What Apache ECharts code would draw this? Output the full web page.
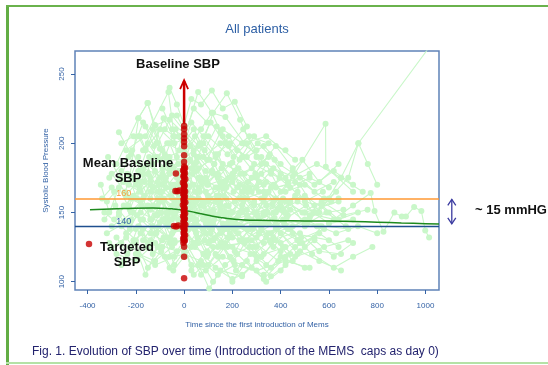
<!DOCTYPE html>
<html>
<head>
<meta charset="utf-8">
<script src="https://cdn.jsdelivr.net/npm/echarts@6/dist/echarts.min.js"></script>
<style>
  html, body { margin: 0; padding: 0; background: #fff; }
  #chart { width: 548px; height: 365px; }
</style>
</head>
<body>
<div id="chart"></div>
<script>
// tick values on both axes
const xTicks = [-400, -200, 0, 200, 400, 600, 800, 1000];
const yTicks = [100, 150, 200, 250];

// reference SBP levels (mean baseline / target)
const meanBaselineSBP = 160;
const targetSBP = 140;

// smoothed mean SBP over time
const meanT = [-390, -250, -130, -50, 0, 50, 100, 150, 200, 250, 300, 400, 500, 600, 700, 800, 900, 1000, 1056];
const meanV = [151.9, 152.8, 153.3, 152.6, 151.6, 149.8, 148, 146.4, 145.2, 144.6, 144.3, 144.1, 143.9, 143.8, 143.5, 143, 142.4, 141.9, 141.6];

// baseline SBP at day 0 (red dots), plus a few just before day 0
const baselineT = [0, 0, 0, 0, 0, 0, 0, 0, 0, 0, 0, 0, 0, 0, 0, 0, 0, 0, 0, 0, 0, 0, 0, 0, 0, 0, 0, 0, 0, 0, 0, 0, 0, 0, 0, 0, 0, 0, 0,
  4, -4, 3, -3, 5, -5, 2, -2, 4, -4, 3, -3, 5, -5, 2, -2, 4, -4, 3, -3, 5, -5, 2, -2, 4, -4, 3, -3,
  -34, -36, -28, -20, -42, -33, -24, -394];
const baselineV = [212.5, 210.1, 206.5, 203.6, 200.9, 197.8, 191.3, 183.2, 181.5, 179.8, 177, 175.4, 172.8, 170.1, 168.5, 166, 164.2, 162.5, 160.3, 158.1, 156.6, 154, 152.2, 150.5, 148.3, 146.1, 144.7, 142.2, 140.1, 138.4, 136.6, 134.2, 132.9, 131.4, 125.2, 118, 102.4, 186.5, 129.5,
  182.1, 180.3, 178.4, 176.2, 174.1, 171.5, 169.3, 167.2, 165.1, 163.3, 161.4, 159.2, 157.4, 155.3, 153.1, 151.4, 149.2, 147.3, 145.4, 143.3, 141.2, 139.3, 137.5, 135.3, 133.5, 131, 129.8, 128.2,
  178.1, 165.5, 165.3, 165.8, 140.2, 139.8, 140.5, 127.2];

// individual patient trajectories [day, SBP]
const patients = [
  [[-320,158],[-250,172],[-180,165],[-90,182],[0,176],[60,160],[150,148],[260,152],[380,140],[520,146]],
  [[-300,140],[-210,150],[-120,135],[-40,158],[0,160],[45,138],[120,130],[210,142],[330,128],[450,135],[600,130]],
  [[-280,185],[-190,218],[-150,229],[-100,196],[-20,205],[0,198],[70,175],[140,168],[230,160],[330,170]],
  [[-260,128],[-170,145],[-60,132],[0,143],[30,125],[100,120],[190,135],[300,118],[420,125]],
  [[-240,195],[-160,205],[-65,237],[-30,190],[0,212],[50,186],[120,222],[177,236],[232,217],[300,190],[400,178]],
  [[-220,150],[-130,168],[-50,155],[0,166],[80,145],[170,150],[260,138],[350,142],[470,130],[580,138]],
  [[-200,172],[-120,213],[-70,185],[0,184],[40,170],[110,160],[200,172],[290,155],[380,160],[500,150],[640,158]],
  [[-330,150],[-260,140],[-200,130],[-110,148],[0,152],[90,135],[180,125],[280,130],[390,115],[480,128]],
  [[-190,205],[-160,195],[-100,210],[-40,200],[0,203],[58,237],[115,222],[171,219],[250,200],[340,205],[460,188]],
  [[-150,178],[-90,165],[-20,170],[0,172],[30,155],[90,150],[160,142],[240,150],[320,137],[410,145],[550,140]],
  [[-280,120],[-200,115],[-120,128],[-30,122],[0,130],[60,112],[104,95],[150,108],[240,104],[320,118]],
  [[-240,162],[-170,178],[-100,158],[-30,168],[0,164],[50,150],[130,158],[210,145],[300,150],[400,155],[520,148],[660,152]],
  [[-310,175],[-230,190],[-170,182],[-80,175],[0,180],[100,170],[200,176],[310,165],[430,170],[586,214],[587,183],[700,165]],
  [[-130,140],[-70,132],[0,140],[40,128],[110,140],[190,118],[270,125],[360,110],[440,120]],
  [[-180,150],[-100,143],[-30,138],[0,145],[70,155],[150,135],[230,140],[330,148],[450,140],[560,150],[650,175],[722,200],[1010,268]],
  [[600,160],[680,175],[722,200],[761,185],[800,170]],
  [[500,150],[620,145],[700,155],[773,164],[789,151],[826,136],[871,150],[902,147],[919,147],[953,154],[983,151],[999,137],[1015,132]],
  [[-260,200],[-210,205],[-182,205],[-160,196],[-100,188],[0,195],[80,200],[160,185],[250,178],[350,190],[480,175]],
  [[-230,170],[-189,218],[-152,229],[-120,213],[-61,217],[0,207],[80,190],[150,200]],
  [[-100,165],[-50,150],[0,158],[20,145],[80,138],[150,152],[220,140],[300,132],[380,138],[460,125],[540,132]],
  [[-290,145],[-220,160],[-140,152],[-60,145],[0,150],[50,142],[120,152],[200,132],[280,140],[360,128]],
  [[-160,125],[-80,118],[0,125],[30,112],[90,108],[160,118],[240,112],[330,105],[400,118],[500,110]],
  [[-120,190],[-60,178],[0,190],[60,182],[130,190],[200,175],[280,182],[370,170],[450,180],[540,165],[620,172]],
  [[-200,138],[-140,130],[-70,142],[0,136],[50,128],[130,132],[200,125],[290,120],[370,132],[460,118],[580,125],[680,130]],
  [[-75,175],[-35,165],[0,168],[35,178],[90,165],[170,172],[250,160],[330,165],[420,158],[500,162],[600,150]],
  [[-250,155],[-180,145],[-110,160],[-40,148],[0,155],[45,165],[100,150],[175,160],[260,148],[340,155],[430,148]],
  [[-60,200],[-25,185],[0,186],[25,198],[70,210],[115,222],[160,205],[220,195],[290,185],[360,178],[430,172],[520,178]],
  [[-340,160],[-300,168],[-270,150],[-210,162],[-140,172],[-50,160],[0,162],[100,158],[230,150]],
  [[-110,155],[-80,145],[-45,138],[0,135],[60,140],[100,128],[140,118],[230,140],[310,145],[370,150],[470,158],[600,142],[700,145]],
  [[-40,130],[0,128],[30,108],[80,120],[130,110],[200,102],[240,105],[300,115],[360,104],[420,112]],
  [[-20,160],[0,170],[20,160],[60,175],[100,162],[160,168],[210,158],[260,165],[320,160],[390,152],[460,162],[540,155],[640,160]],
  [[-190,180],[-140,175],[-90,195],[-45,182],[0,178],[40,192],[90,180],[140,175],[190,185],[230,170],[320,178]],
  [[-170,130],[-130,140],[-90,125],[-50,135],[0,138],[40,146],[110,130],[180,142],[250,130],[320,138],[400,128],[480,135],[560,122],[650,120]],
  [[-300,125],[-240,132],[-190,120],[-120,115],[-50,125],[0,132],[120,125],[250,128]],
  [[-80,210],[-40,205],[0,200],[30,215],[80,205],[130,192],[190,200],[260,190],[330,198],[400,185]],
  [[-140,165],[-95,170],[-55,162],[0,165],[25,150],[75,158],[125,145],[175,155],[225,148],[290,158],[345,150],[410,160],[490,150],[570,158],[660,148],[760,152]],
  [[-220,145],[-150,155],[-70,148],[0,146],[55,132],[115,138],[170,128],[225,135],[285,125],[340,132],[400,122],[470,130],[530,120],[620,110],[700,118],[780,125]],
  [[-30,220],[0,210],[40,195],[100,205],[180,192],[270,205],[350,200],[420,195]],
  [[-260,180],[-200,170],[-150,185],[-100,175],[-50,170],[0,176],[60,168],[140,178],[220,168],[300,175],[380,168],[460,172]],
  [[-50,145],[0,148],[40,155],[95,142],[150,150],[205,138],[265,146],[320,140],[375,146],[440,138],[500,145],[560,140],[630,135],[720,140],[800,135]],
  [[-200,120],[-120,112],[-40,118],[0,120],[70,115],[140,105],[210,112],[300,108],[420,115],[520,110]],
  [[-90,225],[-50,210],[0,205],[40,225],[95,215],[160,210],[240,200],[320,190]],
  [[-320,135],[-250,142],[-170,138],[-90,130],[0,140],[80,145],[160,138],[260,145],[360,135],[500,142],[680,138]],
  [[-130,185],[-80,192],[-20,180],[0,182],[60,190],[120,178],[200,186],[280,175],[370,182],[450,176],[550,185],[650,175],[740,165]],
  [[-10,155],[0,156],[20,138],[50,145],[85,130],[120,142],[180,132],[240,140],[300,125],[350,135],[420,140],[490,128],[560,135],[640,125]],
  [[-60,118],[0,125],[40,105],[80,112],[120,100],[170,112],[220,120],[280,110],[340,100],[400,108],[480,122],[560,115],[650,108]],
  [[-150,200],[-110,190],[-70,200],[-20,195],[0,192],[50,180],[105,188],[150,172],[210,180],[270,168],[340,172],[420,165],[500,170],[580,160]],
  [[-290,165],[-235,178],[-195,160],[-145,190],[-105,170],[-60,182],[0,174],[45,185],[95,170],[155,182],[205,165],[265,172],[335,162],[395,175]],
  [[-270,148],[-225,138],[-175,155],[-135,145],[-85,160],[-35,150],[0,153],[35,160],[85,148],[135,162],[185,150],[245,158],[305,148],[365,156],[425,146],[505,155]],
  [[-315,190],[-265,175],[-215,195],[-165,172],[-115,200],[-70,188],[0,188],[65,200],[125,185],[185,205],[245,190],[305,200],[375,188]],
  [[-240,135],[-195,148],[-150,128],[-105,140],[-55,130],[-15,142],[0,141],[55,150],[110,135],[165,148],[230,130],[295,142],[355,130],[415,142],[485,132]],
  [[-210,175],[-165,162],[-120,180],[-75,168],[-30,178],[0,169],[30,182],[75,172],[125,185],[175,168],[235,178],[300,168],[360,180],[440,168],[520,175],[600,168]],
  [[-180,158],[-140,170],[-95,150],[-55,168],[-15,158],[0,159],[35,170],[80,155],[130,168],[185,155],[240,165],[290,150],[350,165],[410,152],[470,165],[535,150],[610,158]],
  [[-330,145],[-285,155],[-230,143],[-170,160],[-115,135],[-70,150],[0,150],[60,128],[120,150],[180,138],[240,155],[310,135],[380,150]],
  [[-160,212],[-125,198],[-85,218],[-45,205],[0,201],[40,210],[85,195],[135,212],[185,198],[245,210],[300,195]],
  [[-225,125],[-180,135],[-130,120],[-85,132],[-40,112],[0,122],[50,135],[95,118],[150,128],[205,115],[260,130],[320,118],[380,130],[450,115]],
  [[-300,178],[-245,165],[-190,190],[-140,160],[-90,178],[-40,165],[0,172],[40,158],[90,175],[140,160],[200,178],[255,160],[310,172],[370,158],[430,170],[500,158],[575,165]],
  [[-120,148],[-95,160],[-65,140],[-30,155],[0,150],[15,165],[45,140],[80,158],[115,138],[150,155],[195,140],[240,152],[285,138],[330,150],[385,140],[440,152],[510,142],[590,150],[670,140]],
  [[-270,208],[-220,192],[-170,215],[-110,200],[-50,220],[0,209],[60,198],[110,215],[170,200],[230,188],[290,205]],
  [[-250,115],[-200,128],[-150,110],[-95,122],[-45,108],[0,118],[45,128],[100,112],[160,125],[215,108],[275,120],[340,112],[410,125]],
  [[-200,160],[-155,185],[-110,165],[-60,190],[-20,172],[0,178],[25,188],[65,165],[115,180],[165,162],[225,182],[280,165],[340,185],[400,165],[460,178],[540,170],[620,180],[700,170]],
  [[-140,135],[-100,150],[-60,128],[-25,145],[0,139],[45,125],[90,142],[140,125],[190,145],[250,128],[310,142],[370,125],[430,138],[500,125],[570,140]],
  [[-345,170],[-310,150],[-270,168],[-225,152],[-180,172],[-130,155],[-80,172],[-30,158],[0,163]],
  [[-60,240],[-30,228],[0,213],[30,232],[70,228],[115,238],[160,225],[210,230],[260,212]],
  [[-110,172],[-70,190],[-30,175],[0,180],[20,168],[55,190],[95,172],[140,192],[185,175],[240,190],[295,178],[355,192],[420,175],[490,188],[560,172],[640,185]],
  [[-280,132],[-235,120],[-190,140],[-140,125],[-90,145],[-40,128],[0,131],[40,140],[95,122],[150,138],[210,122],[270,138],[330,120],[400,135],[470,120],[540,130],[620,118],[700,128]],
  [[-90,158],[-55,145],[-20,162],[0,161],[25,148],[60,165],[100,145],[145,162],[190,145],[235,160],[280,145],[330,158],[380,142],[440,158],[500,140],[570,155],[640,145],[720,150]],
  [[-170,195],[-130,210],[-80,190],[-35,210],[0,196],[45,205],[95,188],[150,208],[205,190],[260,200],[320,185],[380,198],[450,182]],
  [[-230,155],[-185,168],[-140,145],[-95,165],[-50,140],[0,147],[50,158],[100,140],[150,158],[200,142],[260,160],[330,142],[400,158]],
  [[-40,170],[0,167],[30,150],[70,172],[110,150],[155,170],[200,150],[250,168],[300,148],[360,168],[420,150],[480,170],[550,150],[630,165]],
  [[-310,128],[-260,112],[-210,130],[-160,105],[-110,125],[-60,110],[0,127],[70,105],[130,120],[200,100],[260,115],[330,102],[420,118]]
];

const FONT = 'Liberation Sans, Arial, Helvetica, sans-serif';
const AXIS_BLUE = '#3563a6';
const PALE_GREEN = '#c9f7c9';

const chart = echarts.init(document.getElementById('chart'));

const series = patients.map((p) => ({
  type: 'line',
  data: p,
  symbol: 'circle',
  symbolSize: 6,
  showSymbol: true,
  silent: true,
  lineStyle: { color: PALE_GREEN, width: 1.1 },
  itemStyle: { color: PALE_GREEN },
  z: 1,
}));

series.push({
  type: 'line',
  data: meanT.map((t, i) => [t, meanV[i]]),
  smooth: true,
  symbol: 'none',
  silent: true,
  lineStyle: { color: '#1e8a1e', width: 1.5 },
  z: 5,
  markLine: {
    silent: true,
    symbol: 'none',
    label: { show: false },
    data: [
      { yAxis: meanBaselineSBP, lineStyle: { color: '#ff9933', width: 1.5, type: 'solid' } },
      { yAxis: targetSBP, lineStyle: { color: '#1f4f8f', width: 1.3, type: 'solid' } },
    ],
  },
});

series.push({
  type: 'scatter',
  data: baselineT.map((t, i) => [t, baselineV[i]]),
  symbol: 'circle',
  symbolSize: 6.5,
  silent: true,
  itemStyle: { color: '#c80000' },
  z: 10,
});

const option = {
  animation: false,
  grid: {
    left: 75,
    right: 109,
    top: 51,
    bottom: 75,
    show: true,
    borderColor: '#5f82b8',
    borderWidth: 1.5,
    backgroundColor: 'transparent',
  },
  xAxis: {
    type: 'value',
    min: -452,
    max: 1056,
    name: 'Time since the first introduction of Mems',
    nameLocation: 'middle',
    nameGap: 31,
    nameTextStyle: { color: AXIS_BLUE, fontSize: 8, fontFamily: FONT },
    axisLine: { show: false, onZero: false },
    axisTick: { show: true, customValues: xTicks, length: 4, lineStyle: { color: AXIS_BLUE } },
    axisLabel: {
      customValues: xTicks, color: AXIS_BLUE, fontSize: 8, fontFamily: FONT, margin: 12,
      formatter: (v) => String(v),
    },
    splitLine: { show: false },
  },
  yAxis: {
    type: 'value',
    min: 94,
    max: 266.6,
    name: 'Systolic Blood Pressure',
    nameLocation: 'middle',
    nameGap: 25,
    nameTextStyle: { color: AXIS_BLUE, fontSize: 8, fontFamily: FONT },
    axisLine: { show: false, onZero: false },
    axisTick: { show: true, customValues: yTicks, length: 4, lineStyle: { color: AXIS_BLUE } },
    axisLabel: {
      customValues: yTicks, rotate: 90, color: AXIS_BLUE, fontSize: 8, fontFamily: FONT, margin: 9,
      formatter: (v) => String(v),
    },
    splitLine: { show: false },
  },
  series: series,
};

chart.setOption(option);

// annotations anchored to data positions
const a1 = chart.convertToPixel({ gridIndex: 0 }, [0, 214]);
const a2 = chart.convertToPixel({ gridIndex: 0 }, [0, 245.5]);
const d1 = chart.convertToPixel({ gridIndex: 0 }, [1109, 159.5]);
const d2 = chart.convertToPixel({ gridIndex: 0 }, [1109, 141.8]);
const l160 = chart.convertToPixel({ gridIndex: 0 }, [-250, meanBaselineSBP]);
const l140 = chart.convertToPixel({ gridIndex: 0 }, [-250, targetSBP]);

const boldText = (x, y, text) => ({
  type: 'text',
  x: x,
  y: y,
  silent: true,
  z: 100,
  style: {
    text: text,
    font: 'bold 13px ' + FONT,
    fill: '#111',
    textAlign: 'center',
    textVerticalAlign: 'middle',
  },
});

chart.setOption({
  graphic: [
    // green frame
    { type: 'rect', shape: { x: 6, y: 5, width: 3, height: 360 }, style: { fill: '#62ad44' }, silent: true },
    { type: 'rect', shape: { x: 6, y: 5, width: 542, height: 2 }, style: { fill: '#6ab24c' }, silent: true },
    { type: 'rect', shape: { x: 6, y: 362, width: 542, height: 2 }, style: { fill: '#b4e2a6' }, silent: true },
    // title
    {
      type: 'text', x: 257, y: 29, silent: true,
      style: { text: 'All patients', font: '13px ' + FONT, fill: '#2d5fa5', textAlign: 'center', textVerticalAlign: 'middle' },
    },
    // caption
    {
      type: 'text', x: 32, y: 352, silent: true,
      style: { text: 'Fig. 1. Evolution of SBP over time (Introduction of the MEMS  caps as day 0)', font: '12px ' + FONT, fill: '#23236e', textVerticalAlign: 'middle' },
    },
    // red arrow
    { type: 'line', silent: true, z: 50, shape: { x1: a1[0], y1: a1[1], x2: a2[0], y2: a2[1] + 1 }, style: { stroke: '#cc0000', lineWidth: 2.5 } },
    { type: 'polyline', silent: true, z: 50, shape: { points: [[a2[0] - 4, a2[1] + 9], [a2[0], a2[1]], [a2[0] + 4, a2[1] + 9]] }, style: { stroke: '#cc0000', lineWidth: 1.8, fill: null } },
    // double arrow
    { type: 'line', silent: true, shape: { x1: d1[0], y1: d1[1], x2: d2[0], y2: d2[1] }, style: { stroke: '#3b3ba0', lineWidth: 1.3 } },
    { type: 'polyline', silent: true, shape: { points: [[d1[0] - 4, d1[1] + 6], [d1[0], d1[1]], [d1[0] + 4, d1[1] + 6]] }, style: { stroke: '#3b3ba0', lineWidth: 1.3, fill: null } },
    { type: 'polyline', silent: true, shape: { points: [[d2[0] - 4, d2[1] - 6], [d2[0], d2[1]], [d2[0] + 4, d2[1] - 6]] }, style: { stroke: '#3b3ba0', lineWidth: 1.3, fill: null } },
    // line labels
    {
      type: 'text', x: l160[0], y: l160[1] - 5, silent: true, z: 60,
      style: { text: '160', font: '9px ' + FONT, fill: '#f5a040', textAlign: 'center', textVerticalAlign: 'middle' },
    },
    {
      type: 'text', x: l140[0], y: l140[1] - 5, silent: true, z: 60,
      style: { text: '140', font: '9px ' + FONT, fill: '#3563a6', textAlign: 'center', textVerticalAlign: 'middle' },
    },
    // bold annotations
    boldText(178, 64, 'Baseline SBP'),
    boldText(128, 163, 'Mean Baseline'),
    boldText(128, 178, 'SBP'),
    boldText(127, 247, 'Targeted'),
    boldText(127, 262, 'SBP'),
    boldText(511, 210, '~ 15 mmHG'),
  ],
});
</script>
</body>
</html>
